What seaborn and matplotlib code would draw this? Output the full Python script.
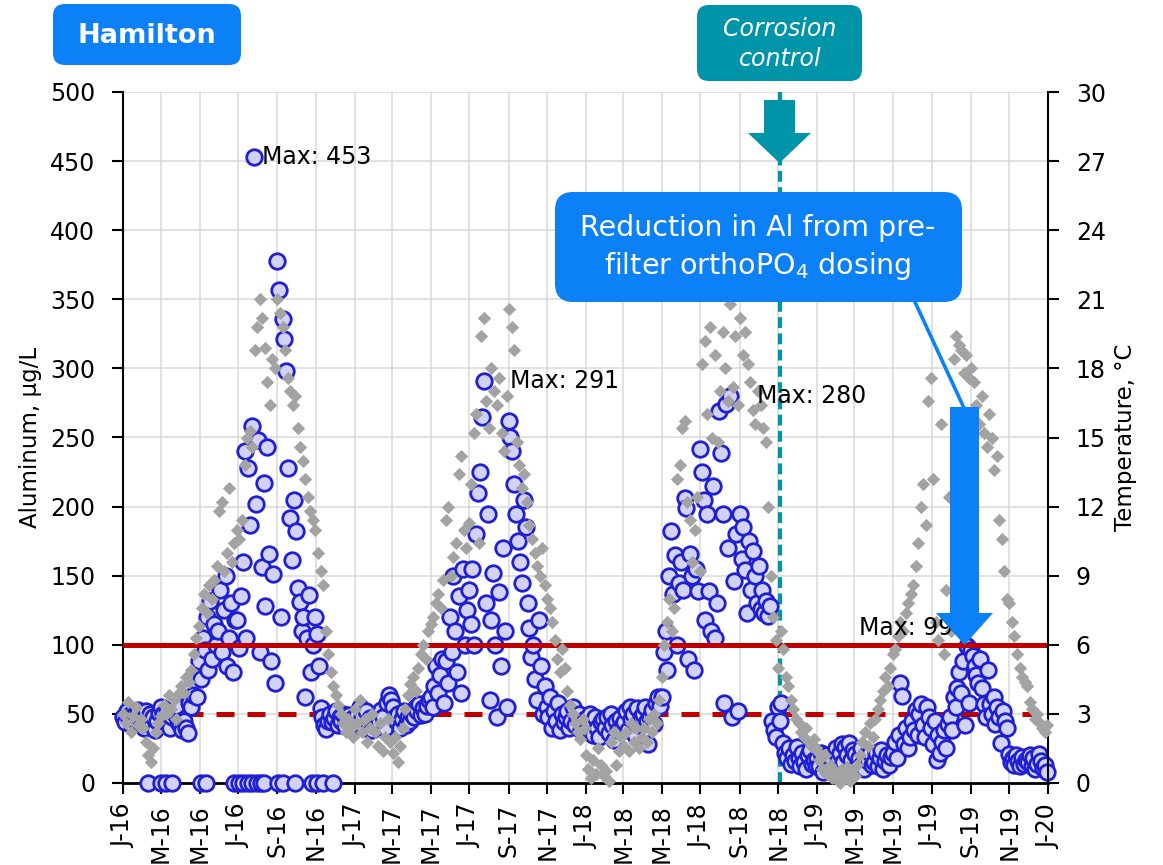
import numpy as np
import pandas as pd
import matplotlib
matplotlib.use("Agg")
import matplotlib.pyplot as plt
import matplotlib.dates as mdates
from matplotlib.patches import FancyBboxPatch, Polygon
from matplotlib.lines import Line2D
from matplotlib.transforms import IdentityTransform
import seaborn as sns

# ---------------- DATA ----------------
# Aluminum (ug/L), one sample every 3 days from 1 Jan of each year
al_step_days = 3
al_2016 = [
    48, 44, 52, 46, 50, 42, 49, 45, 53, 47,            # Jan
    47, 40, 52, 44, 50, 42, 48, 38, 45, 51,            # Feb
    55, 50, 46, 53, 42, 40, 48, 51, 56, 44,            # Mar
    42, 38, 45, 40, 36, 58, 55, 64, 78, 62,            # Apr
    88, 75, 105, 96, 120, 82, 132, 90, 115, 100,       # May
    110, 140, 95, 125, 150, 85, 105, 130, 80, 118,     # Jun
    118, 98, 135, 160, 240, 105, 228, 187, 258, 453,   # Jul
    202, 248, 95, 156, 217, 128, 243, 166, 88, 151, 72,  # Aug
    378, 357, 120, 336, 321, 298, 228, 192, 161, 205,  # Sep
    182, 141, 131, 110, 120, 62, 105, 136, 80, 100,    # Oct
    120, 108, 85, 54, 48, 42, 39, 45, 50, 44,          # Nov
    47, 52, 42, 48, 45, 50, 41, 46, 49, 43, 47,        # Dec
]
al_2017 = [
    45, 50, 42, 55, 48, 40, 52, 44, 47, 38,
    46, 42, 50, 44, 53, 48, 40, 58, 64, 60,
    55, 48, 44, 50, 40, 46, 52, 42, 48, 45,
    50, 48, 55, 52, 57, 49, 54, 50, 56, 60,
    62, 55, 70, 85, 65, 78, 90, 58, 88, 72,
    120, 95, 150, 110, 80, 135, 65, 155, 100, 125,
    140, 115, 155, 100, 180, 210, 225, 265, 291, 130,
    195, 60, 118, 152, 100, 48, 138, 85, 170, 110, 55,
    262, 250, 240, 216, 195, 175, 160, 145, 205, 185,
    130, 112, 91, 100, 75, 60, 118, 85, 50, 70,
    55, 48, 62, 40, 52, 45, 58, 38, 50, 44,
    48, 52, 40, 45, 55, 42, 47, 50, 38, 44, 46,
]
al_2018 = [
    45, 38, 50, 42, 35, 48, 40, 33, 44, 46,
    40, 48, 36, 50, 42, 31, 45, 38, 47, 41,
    44, 52, 38, 55, 46, 50, 35, 54, 42, 48,
    50, 55, 45, 28, 48, 53, 43, 58, 62, 56,
    62, 95, 110, 82, 150, 182, 137, 165, 100, 145,
    160, 140, 206, 199, 90, 166, 150, 82, 155, 139,
    242, 225, 205, 118, 195, 139, 110, 215, 105, 130,
    269, 239, 195, 58, 274, 170, 280, 48, 146, 180, 52,
    195, 162, 185, 154, 123, 175, 140, 168, 150, 130,
    157, 126, 140, 123, 132, 121, 128, 45, 38, 33,
    55, 45, 58, 29, 22, 18, 25, 14, 20, 16,
    26, 18, 12, 22, 15, 10, 20, 24, 14, 17, 12,
]
al_2019 = [
    18, 12, 22, 8, 15, 20, 10, 14, 17, 9,
    25, 18, 22, 28, 15, 26, 20, 29, 17, 24,
    21, 12, 18, 25, 14, 10, 20, 16, 22, 13,
    15, 22, 12, 18, 24, 10, 16, 20, 13, 19,
    22, 30, 18, 35, 72, 63, 28, 40, 25, 33,
    45, 38, 53, 35, 50, 57, 42, 33, 55, 48,
    40, 28, 45, 17, 35, 22, 30, 38, 25, 43,
    48, 38, 62, 55, 69, 80, 65, 88, 42, 99, 58,
    96, 92, 85, 78, 72, 90, 69, 57, 48, 82,
    57, 50, 62, 43, 55, 48, 29, 52, 45, 40,
    21, 15, 18, 13, 20, 16, 12, 19, 14, 17,
    15, 20, 12, 18, 10, 14, 21, 16, 11, 13, 8,
]
# samples reported as zero (2016)
al_zero_dates = ['2016-02-09', '2016-03-01', '2016-03-09', '2016-03-18', '2016-05-03',
                 '2016-05-11', '2016-06-25', '2016-07-02', '2016-07-09', '2016-07-16',
                 '2016-07-23', '2016-07-30', '2016-08-06', '2016-08-11', '2016-09-02',
                 '2016-09-10', '2016-09-29', '2016-10-25', '2016-11-02', '2016-11-12',
                 '2016-11-28']

# Temperature (deg C), one sample every 4 days from 1 Jan of each year
temp_step_days = 4
temp_2016 = [
    3.0, 2.6, 3.5, 2.2, 2.9, 3.3, 2.5, 2.8,
    2.4, 1.8, 1.2, 0.9, 1.5, 2.2, 2.6,
    2.9, 3.4, 3.0, 3.8, 3.2, 3.6, 2.8, 3.9,
    4.2, 3.9, 4.6, 4.4, 4.9, 5.6, 6.3, 6.8,
    7.6, 8.2, 7.4, 8.6, 8.0, 8.8, 9.4,
    11.8, 12.2, 9.2, 10.0, 12.8, 9.6, 10.4, 11.0,
    10.6, 11.4, 13.8, 15.0, 15.3, 14.6, 18.8, 19.8,
    21.0, 20.2, 18.9, 17.4, 16.4, 18.4, 18.0,
    21.0, 20.4, 19.8, 18.8, 17.6, 17.0, 16.4, 16.8,
    15.4, 14.6, 14.0, 13.2, 12.4, 11.8, 11.4, 11.0,
    10.0, 9.2, 8.6, 6.6, 5.6, 4.8, 4.2,
    3.8, 3.4, 3.0, 2.6, 2.2, 2.8, 2.4, 2.0,
]
temp_2017 = [
    3.2, 2.6, 3.6, 2.2, 2.8, 1.8, 2.4, 3.0,
    2.2, 1.6, 2.6, 1.4, 2.0, 2.8, 1.8,
    1.3, 2.0, 0.9, 1.6, 2.4, 3.2, 3.8, 4.3,
    4.6, 4.0, 5.0, 5.6, 6.0, 5.4, 6.6, 6.9,
    7.2, 7.8, 8.2, 7.6, 8.8, 11.4, 12.0,
    9.0, 9.8, 10.4, 13.4, 14.2, 11.0, 10.2, 11.3,
    13.0, 15.2, 16.0, 10.4, 19.4, 20.2, 16.6, 15.4,
    18.0, 17.0, 16.4, 17.6, 15.2, 14.4, 16.8,
    20.6, 19.8, 18.8, 14.8, 13.8, 12.8, 13.4, 12.2,
    11.2, 10.6, 10.0, 9.4, 9.0, 10.2, 8.6, 8.0,
    7.6, 7.0, 6.2, 5.4, 4.8, 5.8, 5.0,
    4.0, 3.4, 3.0, 2.6, 2.2, 1.9, 2.8, 2.4,
]
temp_2018 = [
    1.2, 0.6, 0.2, 1.0, 0.4, 1.5, 0.8, 0.3,
    0.5, 0.1, 1.8, 2.2, 0.8, 1.4, 2.0,
    1.6, 2.2, 1.4, 2.6, 1.8, 2.4, 1.5, 2.0,
    2.4, 1.8, 2.8, 2.2, 3.0, 2.6, 3.6, 4.6,
    6.0, 7.0, 8.0, 6.6, 7.6, 13.2, 13.8,
    15.4, 15.7, 12.2, 11.4, 9.6, 11.0, 12.4, 9.2,
    18.2, 19.2, 16.0, 19.8, 15.0, 18.6, 14.8, 17.0,
    19.6, 18.0, 16.6, 20.8, 17.2, 19.4, 16.4,
    20.2, 18.6, 19.6, 18.2, 17.4, 16.2, 15.6, 17.0,
    16.4, 15.4, 14.8, 12.0, 9.0, 7.2, 6.2, 5.0,
    6.6, 5.8, 4.6, 4.2, 3.6, 3.2, 2.8,
    2.6, 2.2, 2.0, 2.4, 1.8, 1.6, 1.9, 1.5,
]
temp_2019 = [
    1.4, 1.0, 0.6, 1.2, 0.4, 0.8, 0.2, 0.5,
    0.3, 0.0, 0.6, 0.2, 0.7, 0.1, 0.4,
    0.3, 0.8, 1.2, 1.8, 2.2, 1.6, 2.6, 2.0,
    2.8, 3.2, 3.6, 4.0, 4.6, 4.2, 5.0, 5.6,
    5.8, 6.4, 7.0, 6.6, 7.4, 7.8, 8.2,
    8.6, 9.4, 10.4, 12.0, 13.0, 11.2, 16.6, 17.6,
    13.2, 7.0, 6.2, 15.6, 5.6, 8.4, 12.4, 6.6,
    18.4, 19.4, 19.0, 18.8, 17.8, 18.6, 17.6,
    18.0, 17.4, 16.4, 15.6, 16.8, 15.2, 14.6, 16.0,
    15.0, 13.6, 14.2, 11.4, 10.6, 9.2, 8.0, 7.8,
    7.0, 6.4, 5.6, 5.0, 4.6, 4.4, 4.2,
    3.5, 3.2, 2.8, 3.0, 2.6, 2.4, 2.2, 2.5,
]
years = [2016, 2017, 2018, 2019]
al_by_year = [al_2016, al_2017, al_2018, al_2019]
temp_by_year = [temp_2016, temp_2017, temp_2018, temp_2019]

al_yticks = [0, 50, 100, 150, 200, 250, 300, 350, 400, 450, 500]
temp_yticks = [0, 3, 6, 9, 12, 15, 18, 21, 24, 27, 30]
al_limit = 100
al_target = 50
corrosion_date = '2018-11-04'


def to_frame(lists, step):
    frames = []
    for yr, vals in zip(years, lists):
        d = pd.Timestamp(f"{yr}-01-01") + pd.to_timedelta(np.arange(len(vals)) * step, unit="D")
        frames.append(pd.DataFrame({"date": d, "value": vals, "year": yr}))
    return pd.concat(frames, ignore_index=True)


al_df = to_frame(al_by_year, al_step_days)
temp_df = to_frame(temp_by_year, temp_step_days)
zero_df = pd.DataFrame({"date": pd.to_datetime(al_zero_dates), "value": 0})

# ---------------- STYLE ----------------
sns.set_theme(style="white")
plt.rcParams['font.family'] = ['DejaVu Sans']
plt.rcParams['mathtext.default'] = 'regular'
for k in ['text.color', 'axes.labelcolor', 'xtick.color', 'ytick.color', 'axes.edgecolor']:
    plt.rcParams[k] = 'black'

W, H = 1163, 865
fig = plt.figure(figsize=(W / 100, H / 100), dpi=100)
ax = fig.add_axes([123 / W, 1 - 783 / H, (1048 - 123) / W, (783 - 92) / H])

grid_c = '#d9d9d9'
face_c = '#d2d2f6'
edge_c = '#1f1fd4'
gray_c = '#a3a3a3'
red_c = '#c00000'
teal_c = '#0094a8'
blue_c = '#0b80f7'

ax.set_xlim(pd.Timestamp('2016-01-01'), pd.Timestamp('2020-01-01'))
ax.set_ylim(0, 500)
ax.set_yticks(al_yticks)
ax.xaxis.set_major_locator(mdates.MonthLocator(bymonth=[1, 3, 5, 7, 9, 11]))
ax.xaxis.set_major_formatter(matplotlib.ticker.FuncFormatter(
    lambda x, pos: mdates.num2date(x).strftime('%b')[0] + '-' + mdates.num2date(x).strftime('%y')))
ax.grid(True, color=grid_c, lw=1.1)
ax.set_axisbelow(True)

# reference lines
ax.axhline(al_target, color=red_c, lw=3.6, ls=(0, (3.6, 2.6)), zorder=1.6)
ax.axvline(pd.Timestamp(corrosion_date), color=teal_c, lw=3.0, ls=(0, (2.6, 1.3)), zorder=1.7)

# aluminum points
sns.scatterplot(data=al_df, x='date', y='value', ax=ax, s=125, marker='o', color=face_c,
                edgecolor=edge_c, linewidth=2.0, zorder=3, clip_on=False, legend=False)
sns.scatterplot(data=zero_df, x='date', y='value', ax=ax, s=125, marker='o', color=face_c,
                edgecolor=edge_c, linewidth=2.0, zorder=3, clip_on=False, legend=False)
ax.axhline(al_limit, color=red_c, lw=3.6, zorder=4)

for s in ['top', 'right']:
    ax.spines[s].set_visible(False)
ax.spines['left'].set_linewidth(1.5)
ax.spines['bottom'].set_linewidth(2.0)
ax.tick_params(axis='y', left=True, direction='out', length=8, width=1.5, pad=12, labelsize=17)
ax.tick_params(axis='x', bottom=True, direction='out', length=8, width=1.5, pad=7,
               labelsize=17, labelrotation=90)
ax.set_xlabel('')
ax.set_ylabel('Aluminum, µg/L', fontsize=16.5, labelpad=6)

# temperature on right axis
ax2 = ax.twinx()
sns.scatterplot(data=temp_df, x='date', y='value', ax=ax2, s=46, marker='D', color=gray_c,
                linewidth=0, zorder=3, clip_on=False, legend=False)
ax2.set_ylim(0, 30)
ax2.set_yticks(temp_yticks)
ax2.grid(False)
for s in ['top', 'left', 'bottom']:
    ax2.spines[s].set_visible(False)
ax2.spines['right'].set_linewidth(1.5)
ax2.tick_params(axis='y', right=True, direction='out', length=8, width=1.5, pad=12, labelsize=17)
ax2.set_ylabel('Temperature, °C', fontsize=16.5, labelpad=6)
ax2.set_xlabel('')

# Max labels
offsets = {2016: (6, 0, 'left'), 2017: (19, 0, 'left'), 2018: (19, 0, 'left'), 2019: (-10, 13, 'right')}
for yr in years:
    sub = al_df[al_df['year'] == yr]
    row = sub.loc[sub['value'].idxmax()]
    dx, dy, ha = offsets[yr]
    ax2.annotate(f"Max: {int(row['value'])}", xy=(mdates.date2num(row['date']), row['value']),
                 xycoords=ax.transData, xytext=(dx, dy), textcoords='offset points',
                 ha=ha, va='center', fontsize=17, zorder=6)

# ---------------- ANNOTATIONS (pixel space) ----------------
ident = IdentityTransform()


def rbox(x0, y0, x1, y1, color, r):
    fig.add_artist(FancyBboxPatch((x0, H - y1), x1 - x0, y1 - y0,
                                  boxstyle=f"round,pad=0,rounding_size={r}",
                                  fc=color, ec='none', transform=ident, zorder=5))


def block_arrow(xl, xr, ytop, yhead, hl, hr, ytip, color):
    xc = (xl + xr) / 2
    pts = [(xl, ytop), (xr, ytop), (xr, yhead), (hr, yhead), (xc, ytip), (hl, yhead), (xl, yhead)]
    fig.add_artist(Polygon([(x, H - y) for x, y in pts], closed=True, fc=color, ec='none',
                           transform=ident, zorder=5))


rbox(53, 4, 241, 65, blue_c, 12)
fig.text(147, H - 36, 'Hamilton', transform=ident, ha='center', va='center',
         color='white', fontsize=19.5, fontweight='bold', zorder=6)

rbox(697, 5, 862, 81, teal_c, 12)
fig.text(780, H - 44, 'Corrosion\ncontrol', transform=ident, ha='center', va='center',
         color='white', fontsize=17, fontstyle='italic', linespacing=1.3, zorder=6)
block_arrow(764, 795, 100, 133, 748, 811, 163, teal_c)

fig.add_artist(Line2D([915, 964], [H - 302, H - 408], color=blue_c, lw=2.6,
                      transform=ident, zorder=5))
block_arrow(950, 979, 407, 613, 936, 993, 645, blue_c)
rbox(555, 192, 962, 302, blue_c, 18)
fig.text(758, H - 248, 'Reduction in Al from pre-\nfilter orthoPO$_4$ dosing', transform=ident,
         ha='center', va='center', color='white', fontsize=20.5, linespacing=1.35, zorder=6)

fig.savefig('out.png', dpi=100)
